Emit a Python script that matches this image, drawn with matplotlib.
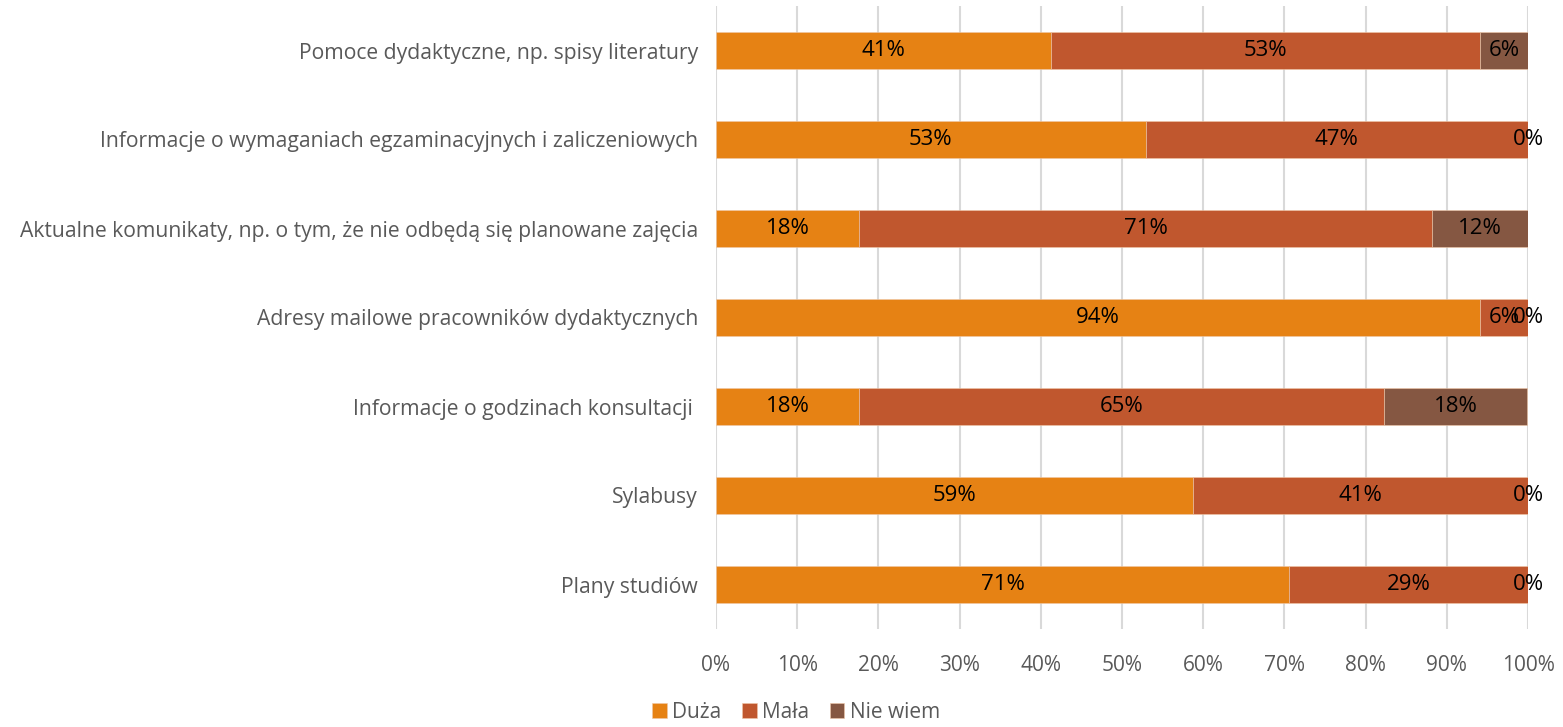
import matplotlib
matplotlib.use("Agg")
import matplotlib.pyplot as plt
import numpy as np

categories = [
    "Pomoce dydaktyczne, np. spisy literatury",
    "Informacje o wymaganiach egzaminacyjnych i zaliczeniowych",
    "Aktualne komunikaty, np. o tym, że nie odbędą się planowane zajęcia",
    "Adresy mailowe pracowników dydaktycznych",
    "Informacje o godzinach konsultacji ",
    "Sylabusy",
    "Plany studiów",
]
duza = [41.2, 52.9, 17.6, 94.1, 17.6, 58.8, 70.6]
mala = [52.9, 47.1, 70.6, 5.9, 64.7, 41.2, 29.4]
nie_wiem = [5.9, 0.0, 11.8, 0.0, 17.6, 0.0, 0.0]
series_names = ["Duża", "Mała", "Nie wiem"]
colors = ["#E68214", "#C0572E", "#855742"]
xticks = [0, 10, 20, 30, 40, 50, 60, 70, 80, 90, 100]

plt.rcParams['font.family'] = ['Open Sans', 'DejaVu Sans']

fig = plt.figure(figsize=(15.63, 7.27), dpi=100)
ax = fig.add_axes([716/1563, 1-629/727, (1528-716)/1563, (629-6)/727])

y = np.arange(len(categories))
left = np.zeros(len(categories))
for vals, name, col in zip([duza, mala, nie_wiem], series_names, colors):
    vals = np.array(vals)
    ax.barh(y, vals, left=left, height=0.41, color=col, label=name,
            edgecolor='#F0C8A8', linewidth=0.4, zorder=3)
    for yi, l, v in zip(y, left, vals):
        ax.text(l + v/2, yi, f"{v:.0f}%", ha='center', va='center',
                fontsize=16, color='black', zorder=4)
    left = left + vals

ax.set_xlim(0, 100)
ax.set_ylim(len(categories)-0.5, -0.5)
ax.set_yticks(y)
ax.set_yticklabels(categories, fontsize=15.2, color='#595959')
ax.set_xticks(xticks)
ax.set_xticklabels([f"{t}%" for t in xticks], fontsize=15, color='#595959')
ax.tick_params(axis='both', length=0)
ax.tick_params(axis='y', pad=13)
ax.tick_params(axis='x', pad=19)
ax.grid(axis='x', color='#D9D9D9', linewidth=1.5, zorder=0)
for s in ax.spines.values():
    s.set_visible(False)

handles, labels = ax.get_legend_handles_labels()
fig.legend(handles, labels, loc='center', bbox_to_anchor=(796/1563, 1-712/727),
           ncol=3, frameon=False, fontsize=15, handlelength=0.7, handleheight=0.7,
           handletextpad=0.25, columnspacing=1.0, labelcolor='#595959')

fig.savefig("out.png", dpi=100)
